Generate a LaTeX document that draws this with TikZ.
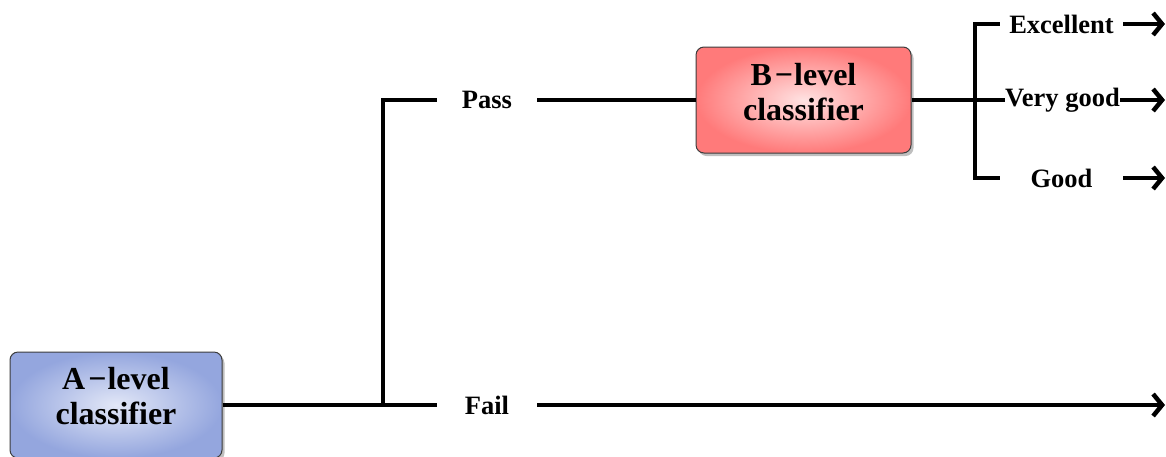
\documentclass[tikz,border=0pt]{standalone}
\usepackage{fontspec}
\setmainfont{Liberation Serif}
\usetikzlibrary{arrows.meta,shadows}
\definecolor{aouter}{RGB}{148,166,222}
\definecolor{ainner}{RGB}{226,231,247}
\definecolor{bouter}{RGB}{255,122,122}
\definecolor{binner}{RGB}{255,226,226}
\definecolor{boxedge}{RGB}{60,60,60}
\newcommand{\lvlminus}{\kern3pt{−}\kern1pt}
\tikzset{
  classbox/.style={draw=boxedge, line width=1pt, rounded corners=8pt,
    minimum width=#1, minimum height=106pt, inner sep=0pt,
    drop shadow={shadow xshift=2.5pt, shadow yshift=-3pt, opacity=0.25, fill=black}},
  boxtext/.style={align=center, inner sep=0pt,
    font=\fontsize{32}{35}\selectfont\bfseries},
  lbl/.style={inner sep=0pt, minimum height=24pt, minimum width=#1,
    font=\fontsize{26.5}{29}\selectfont\bfseries},
  wire/.style={line width=4.5pt},
  arr/.style={wire, -{Straight Barb[length=9pt,width=22pt]}},
}
\begin{document}
\begin{tikzpicture}[x=1pt,y=-1pt]
\useasboundingbox (0,0) rectangle (1166,456);
\begin{scope}
\clip (0,0) rectangle (1166,456);
% classifier boxes
\node[classbox=212pt, inner color=ainner, outer color=aouter] (A) at (116,405) {};
\node[classbox=215pt, inner color=binner, outer color=bouter] (B) at (803.5,100) {};
\end{scope}
\node[boxtext] (Atext) at ([yshift=9pt]A.center) {A\lvlminus level\\classifier};
\node[boxtext] (Btext) at ([yshift=8pt]B.center) {B\lvlminus level\\classifier};
% branch labels
\node[lbl=100pt] (pass) at (487,100) {Pass};
\node[lbl=100pt] (fail) at (487,405) {Fail};
\node[lbl=123pt] (ex) at (1061.5,24) {Excellent};
\node[lbl=115pt] (vg) at (1062.5,100) {Very good};
\node[lbl=123pt] (gd) at (1061.5,178) {Good};
% junction points
\coordinate (j1) at (383,405);
\coordinate (j1t) at (383,100);
\coordinate (k1) at (975,24);
\coordinate (k2) at (975,178);
\coordinate (failend) at (1165,405);
\coordinate (exend) at (1165,24);
\coordinate (vgend) at (1165,100);
\coordinate (gdend) at (1165,178);
% A-level connectors
\draw[wire] (A.east) -- (fail.west);
\draw[wire] (j1) -- (j1t) -- (pass.west);
\draw[wire] (pass.east) -- (B.west);
\draw[arr] (fail.east) -- (failend);
% B-level connectors
\draw[wire] (B.east) -- (vg.west);
\draw[wire] (ex.west) -- (k1) -- (k2) -- (gd.west);
\draw[arr] (ex.east) -- (exend);
\draw[arr] (vg.east) -- (vgend);
\draw[arr] (gd.east) -- (gdend);
\end{tikzpicture}
\end{document}
